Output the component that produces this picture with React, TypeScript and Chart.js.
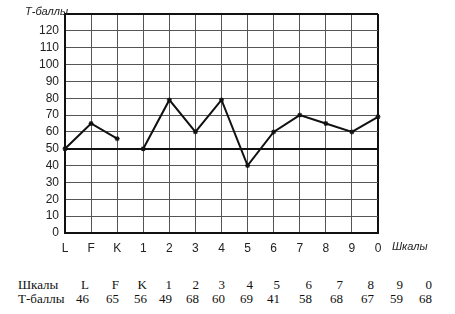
import React, { useEffect, useRef } from 'react';
import { Chart, registerables } from 'chart.js';

Chart.register(...registerables);

// Scales (categories) on the x axis
const categories = ['L', 'F', 'K', '1', '2', '3', '4', '5', '6', '7', '8', '9', '0'];
// Values as plotted on the profile
const plottedScores = [50, 65, 56, 50, 79, 60, 79, 40, 60, 70, 65, 60, 69];
// Values printed in the table below the chart
const tableScores = [46, 65, 56, 49, 68, 60, 69, 41, 58, 68, 67, 59, 68];
// Validity scales (first segment) count
const validityCount = 3;
// Y axis range
const yMin = 0;
const yMax = 130;
const yStep = 10;
const yLabelMax = 120;
const referenceLine = 50;

export default function App() {
  const ref = useRef<HTMLCanvasElement>(null);

  useEffect(() => {
    const lineStyle = {
      borderColor: '#111',
      backgroundColor: '#111',
      borderWidth: 2,
      tension: 0,
      pointStyle: 'star' as const,
      pointRadius: 2.5,
      pointBorderWidth: 1.2,
      pointBorderColor: '#111',
      spanGaps: false,
      fill: false,
    };
    const lastIdx = categories.length - 1;
    const chart = new Chart(ref.current!, {
      type: 'line',
      data: {
        labels: categories,
        datasets: [
          { ...lineStyle, data: plottedScores.map((v, i) => (i < validityCount ? v : null)) },
          { ...lineStyle, data: plottedScores.map((v, i) => (i >= validityCount ? v : null)) },
        ],
      },
      options: {
        animation: false,
        responsive: false,
        maintainAspectRatio: false,
        layout: { padding: { left: 0, right: 77, top: 14, bottom: 0 } },
        plugins: { legend: { display: false }, tooltip: { enabled: false } },
        scales: {
          x: {
            offset: false,
            grid: {
              color: (ctx: any) => (ctx.index === 0 || ctx.index === lastIdx ? '#111' : '#555'),
              lineWidth: (ctx: any) => (ctx.index === 0 || ctx.index === lastIdx ? 2 : 1),
              drawTicks: false,
            },
            border: { color: '#111', width: 2 },
            ticks: {
              padding: 8,
              color: '#222',
              autoSkip: false,
              maxRotation: 0,
              font: { family: 'Liberation Sans', size: 12 },
            },
            afterFit: (s: any) => {
              s.height = 27;
            },
          },
          y: {
            min: yMin,
            max: yMax,
            grid: {
              color: (ctx: any) =>
                ctx.tick && (ctx.tick.value === referenceLine || ctx.tick.value === yMax) ? '#111' : '#555',
              lineWidth: (ctx: any) =>
                ctx.tick && (ctx.tick.value === referenceLine || ctx.tick.value === yMax) ? 2 : 1,
              drawTicks: false,
            },
            border: { color: '#111', width: 2 },
            ticks: {
              stepSize: yStep,
              autoSkip: false,
              padding: 6,
              color: '#222',
              font: { family: 'Liberation Sans', size: 12 },
              callback: (v: any) => (Number(v) > yLabelMax ? '' : String(v)),
            },
            afterFit: (s: any) => {
              s.width = 65;
            },
          },
        },
      },
    });
    return () => chart.destroy();
  }, []);

  const cellStyle: React.CSSProperties = { textAlign: 'right', whiteSpace: 'nowrap' };
  const labelStyle: React.CSSProperties = { textAlign: 'left', whiteSpace: 'nowrap' };
  const cols = '42px 29px 30px 28px 25px 27px 26px 28px 27px 32px 31px 31px 29px 29px';

  return (
    <div style={{ position: 'absolute', left: 0, top: 0, width: 455, height: 314, background: '#fff' }}>
      <canvas ref={ref} width={455} height={260} style={{ display: 'block', position: 'absolute', left: 0, top: 0 }} />
      <div
        style={{
          position: 'absolute',
          left: 25,
          top: 5,
          font: 'italic 11px "Liberation Sans"',
          color: '#222',
        }}
      >
        Т-баллы
      </div>
      <div
        style={{
          position: 'absolute',
          left: 392,
          top: 240,
          font: 'italic 11px "Liberation Sans"',
          color: '#222',
        }}
      >
        Шкалы
      </div>
      <div
        style={{
          position: 'absolute',
          left: 18,
          top: 278,
          display: 'grid',
          gridTemplateColumns: cols,
          font: '13px "Liberation Serif"',
          lineHeight: '14px',
          color: '#111',
        }}
      >
        <div style={labelStyle}>Шкалы</div>
        {categories.map((c) => (
          <div key={'c' + c} style={cellStyle}>
            {c}
          </div>
        ))}
        <div style={labelStyle}>Т-баллы</div>
        {tableScores.map((v, i) => (
          <div key={'v' + i} style={cellStyle}>
            {v}
          </div>
        ))}
      </div>
    </div>
  );
}
